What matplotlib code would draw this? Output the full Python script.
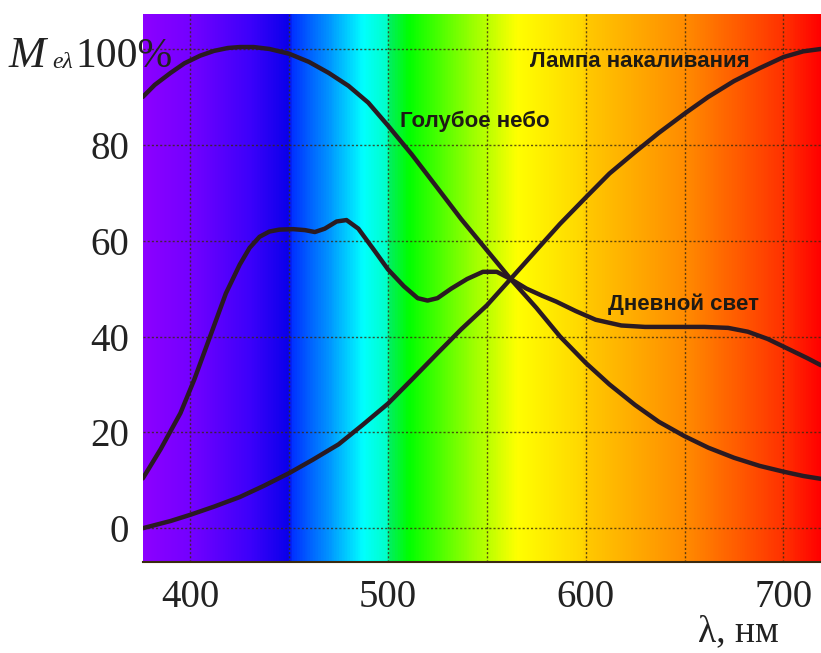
import numpy as np
import matplotlib
matplotlib.use("Agg")
import matplotlib.pyplot as plt
from matplotlib.colors import LinearSegmentedColormap

# wavelength (nm) and relative spectral density (%)
sky_nm = [376, 382, 390, 397, 405, 412, 419, 425, 432, 440, 450, 460, 470, 480, 490,
          500, 512, 525, 537, 550, 562, 575, 587, 600, 612, 625, 637, 650, 662,
          675, 688, 700, 710, 719]
sky_val = [90, 92.5, 95, 97, 98.6, 99.6, 100.2, 100.4, 100.4, 100, 99, 97.3, 95, 92.3, 88.8,
           84, 78, 71, 64.5, 58, 52, 46, 40, 34.5, 30, 25.7, 22.2, 19.2, 16.8,
           14.7, 13, 11.8, 10.9, 10.3]

lamp_nm = [376, 390, 400, 412, 425, 437, 450, 462, 475, 487, 500, 512, 525, 537,
           550, 562, 575, 587, 600, 612, 625, 637, 650, 662, 675, 688, 700, 710, 719]
lamp_val = [0, 1.5, 2.8, 4.5, 6.5, 8.8, 11.5, 14.3, 17.5, 21.5, 26, 31, 36.5, 41.5,
            46.5, 52, 58, 63.5, 69, 74, 78.5, 82.5, 86.5, 90, 93.3, 96, 98.3, 99.5, 100]

day_nm = [376, 385, 395, 402, 410, 418, 425, 430, 435, 440, 445, 452, 458, 463, 468,
          474, 479, 485, 493, 500, 508, 515, 520, 525, 532, 540, 548, 555, 562,
          570, 578, 585, 595, 605, 618, 630, 645, 660, 672, 682, 692, 702, 712, 719]
day_val = [10.4, 16.5, 24, 31, 40, 49, 55, 58.5, 60.8, 61.9, 62.3, 62.4, 62.2, 61.8, 62.5,
           64, 64.3, 62.5, 58, 54, 50.5, 48, 47.5, 48, 50, 52, 53.5, 53.5, 52,
           50, 48.5, 47.3, 45.3, 43.5, 42.3, 42, 42, 42, 41.8, 41, 39.5, 37.5, 35.5, 34]

# spectrum colour stops (nm, rgb)
spec_nm = [376, 400, 430, 449, 451, 470, 487, 499, 501, 510, 535, 565, 598, 601,
           650, 700, 719]
spec_rgb = [(140, 0, 255), (115, 0, 255), (60, 0, 250), (10, 0, 235), (0, 50, 255),
            (0, 150, 255), (0, 255, 255), (0, 255, 200), (0, 240, 90), (0, 255, 0),
            (120, 255, 0), (255, 255, 0), (255, 215, 0), (255, 200, 0),
            (255, 140, 0), (255, 50, 0), (255, 0, 0)]

x_ticks = [400, 500, 600, 700]
y_ticks = [0, 20, 40, 60, 80, 100]
y_labels = ["0", "20", "40", "60", "80", ""]

xmin, xmax = 376, 719
ymin, ymax = -7.1, 107.3

fig = plt.figure(figsize=(8.21, 6.53), dpi=100)
ax = fig.add_axes([0.174, 0.139, 0.826, 0.8396])

stops = [((n - xmin) / (xmax - xmin), tuple(c / 255 for c in rgb))
         for n, rgb in zip(spec_nm, spec_rgb)]
cmap = LinearSegmentedColormap.from_list("spectrum", stops)
grad = np.linspace(0, 1, 1000).reshape(1, -1)
ax.imshow(grad, cmap=cmap, aspect="auto", extent=[xmin, xmax, ymin, ymax],
          interpolation="bilinear", zorder=0)

line_kw = dict(color="#2a1a22", lw=3.2, solid_capstyle="round",
               solid_joinstyle="round", zorder=3)
ax.plot(sky_nm, sky_val, **line_kw)
ax.plot(lamp_nm, lamp_val, **line_kw)
ax.plot(day_nm, day_val, **line_kw)

ax.set_xlim(xmin, xmax)
ax.set_ylim(ymin, ymax)
ax.set_xticks(x_ticks)
ax.set_xticks(np.arange(450, 701, 100), minor=True)
ax.set_yticks(y_ticks)
ax.set_yticklabels(y_labels)
ax.grid(True, which="both", color="#3a2a10", lw=1.0, ls=(0, (1.5, 1.5)), alpha=0.8)
for a in ax.get_xgridlines() + ax.get_ygridlines():
    a.set_zorder(1)

ax.tick_params(which="both", length=0)
ax.tick_params(axis="x", pad=12, labelsize=28)
ax.tick_params(axis="y", pad=10, labelsize=28)
for lab in ax.get_xticklabels() + ax.get_yticklabels():
    lab.set_fontfamily("Liberation Serif")
    lab.set_color("#222222")

for side in ["top", "left", "right"]:
    ax.spines[side].set_visible(False)
ax.spines["bottom"].set_color("#3a2a10")
ax.spines["bottom"].set_linewidth(1.5)

serif = "Liberation Serif"
fig.text(9 / 821, 1 - 56 / 653, "M", fontsize=32, fontstyle="italic",
         family=serif, color="#222222", va="center", ha="left")
fig.text(52 / 821, 1 - 62 / 653, "еλ", fontsize=17, fontstyle="italic",
         family=serif, color="#222222", va="center", ha="left")
fig.text(75 / 821, 1 - 57 / 653, "100%", fontsize=30,
         family=serif, color="#222222", va="center", ha="left", zorder=5)
fig.text(698 / 821, 1 - 632 / 653, "λ, нм", fontsize=27,
         family=serif, color="#222222", va="center", ha="left")

lbl_kw = dict(fontsize=16, fontweight="bold", family="Liberation Sans",
              color="#1e1a14", va="center", ha="left", zorder=4)
ax.text(572, 97.3, "Лампа накаливания", **lbl_kw)
ax.text(506, 84.8, "Голубое небо", **lbl_kw)
ax.text(611.5, 46.8, "Дневной свет", **lbl_kw)

fig.savefig("out.png", dpi=100)
